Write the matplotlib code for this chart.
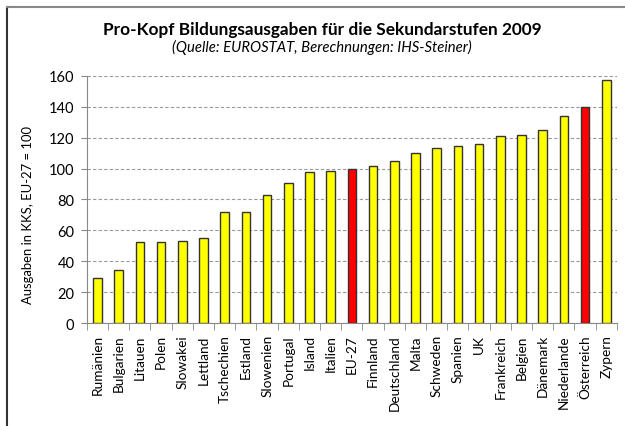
import matplotlib
matplotlib.use('Agg')
import matplotlib.pyplot as plt
from matplotlib.lines import Line2D

plt.rcParams['font.family'] = ['Lato', 'DejaVu Sans']

laender = ['Rumänien', 'Bulgarien', 'Litauen', 'Polen', 'Slowakei', 'Lettland',
           'Tschechien', 'Estland', 'Slowenien', 'Portugal', 'Island', 'Italien',
           'EU-27', 'Finnland', 'Deutschland', 'Malta', 'Schweden', 'Spanien', 'UK',
           'Frankreich', 'Belgien', 'Dänemark', 'Niederlande', 'Österreich', 'Zypern']
werte = [29.2, 34.4, 52.3, 52.3, 53, 54.9, 71.8, 71.8, 82.8, 90.8, 98, 98.7,
         100, 101.5, 105, 110.4, 113, 114.5, 115.6, 121, 122, 125, 133.8, 139.8, 157]
hervorgehoben = ['EU-27', 'Österreich']

farben = ['#ff0000' if l in hervorgehoben else '#ffff00' for l in laender]

fig = plt.figure(figsize=(6.25, 4.27), dpi=100)
ax = fig.add_axes([0.139, 0.241, 0.848, 0.579])

x = range(len(laender))
ax.bar(x, werte, width=0.4, color=farben, edgecolor='#333333', linewidth=1, zorder=3)

ax.set_xlim(-0.5, len(laender) - 0.5)
ax.set_ylim(0, 160)
ax.set_yticks(range(0, 161, 20))
ax.tick_params(axis='y', labelsize=10.5, length=4, color='#888888', pad=5)
ax.set_xticks(list(x))
ax.set_xticklabels(laender, rotation=90, fontsize=9.8)
ax.tick_params(axis='x', length=0, pad=8)
ax.set_xticks([i - 0.5 for i in range(len(laender) + 1)], minor=True)
ax.tick_params(axis='x', which='minor', length=5, color='#888888')

ax.grid(axis='y', linestyle=(0, (3, 2)), color='#999999', linewidth=0.8, zorder=0)
for s in ['top', 'right']:
    ax.spines[s].set_visible(False)
for s in ['left', 'bottom']:
    ax.spines[s].set_color('#888888')

ax.set_ylabel('Ausgaben in KKS, EU-27 = 100', fontsize=9.4)
ax.yaxis.set_label_coords(-0.1, 0.44)

fig.text(0.515, 0.93, 'Pro-Kopf Bildungsausgaben für die Sekundarstufen 2009',
         ha='center', va='center', fontsize=12.4, fontweight='bold')
fig.text(0.515, 0.888, '(Quelle: EUROSTAT, Berechnungen: IHS-Steiner)',
         ha='center', va='center', fontsize=10.7, fontstyle='italic')

# Rahmen
fig.add_artist(Line2D([0.011, 0.011], [0, 0.981], color='#333333', linewidth=1.5))
fig.add_artist(Line2D([0.011, 1], [0.981, 0.981], color='#888888', linewidth=1.5))

fig.savefig('out.png', dpi=100)
